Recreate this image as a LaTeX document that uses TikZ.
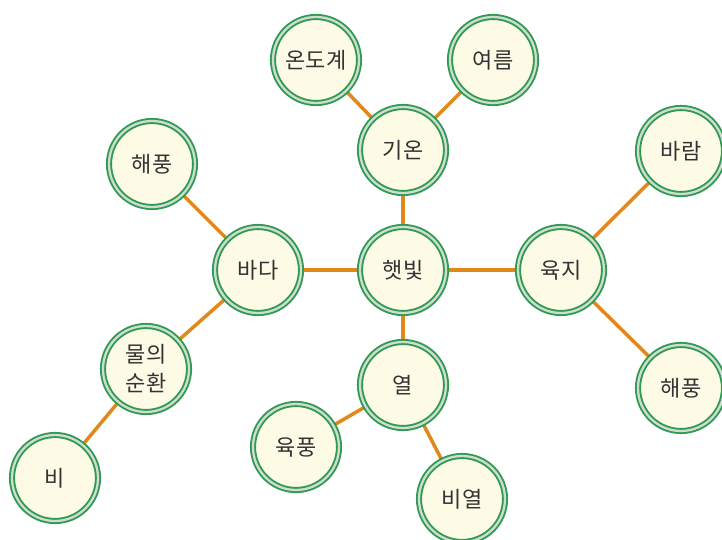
\documentclass[tikz,border=0pt]{standalone}
\usepackage{fontspec}
\usetikzlibrary{backgrounds}
\newfontfamily\kr{Noto Sans CJK KR}
\definecolor{ringgreen}{HTML}{2E9A52}
\definecolor{ringgray}{HTML}{D0DCD0}
\definecolor{nodefill}{HTML}{FDFBE6}
\definecolor{edgeorange}{HTML}{E0891A}
\definecolor{txt}{HTML}{333333}
\begin{document}
\begin{tikzpicture}[x=1pt,y=-1pt,
  concept/.style={circle, draw=ringgreen, line width=1.9pt, double=ringgray, double distance=2.3pt,
    fill=nodefill, minimum size=86pt, inner sep=0pt, outer sep=0pt,
    font=\kr\fontsize{22}{29}\selectfont, text=txt, align=center},
  link/.style={draw=edgeorange, line width=3.5pt}]
\useasboundingbox (0,0) rectangle (722,540);
\node[concept] (sun) at (403,270) {햇빛};
\node[concept] (temp) at (403,150) {기온};
\node[concept] (thermo) at (316,60) {온도계};
\node[concept] (summer) at (493,60) {여름};
\node[concept] (sea) at (258,270) {바다};
\node[concept] (seabreezeL) at (152,164) {해풍};
\node[concept] (cycle) at (146,369) {물의\\순환};
\node[concept] (rain) at (55,478) {비};
\node[concept] (heat) at (403,385) {열};
\node[concept] (landbreeze) at (296,447) {육풍};
\node[concept] (specheat) at (462,499) {비열};
\node[concept] (land) at (561,270) {육지};
\node[concept] (wind) at (681,151) {바람};
\node[concept] (seabreezeR) at (681,388) {해풍};
\begin{scope}[on background layer]
\draw[link] (sun) -- (temp);
\draw[link] (temp) -- (thermo);
\draw[link] (temp) -- (summer);
\draw[link] (sun) -- (sea);
\draw[link] (sea) -- (seabreezeL);
\draw[link] (sea) -- (cycle);
\draw[link] (cycle) -- (rain);
\draw[link] (sun) -- (heat);
\draw[link] (heat) -- (landbreeze);
\draw[link] (heat) -- (specheat);
\draw[link] (sun) -- (land);
\draw[link] (land) -- (wind);
\draw[link] (land) -- (seabreezeR);
\end{scope}
\end{tikzpicture}
\end{document}
